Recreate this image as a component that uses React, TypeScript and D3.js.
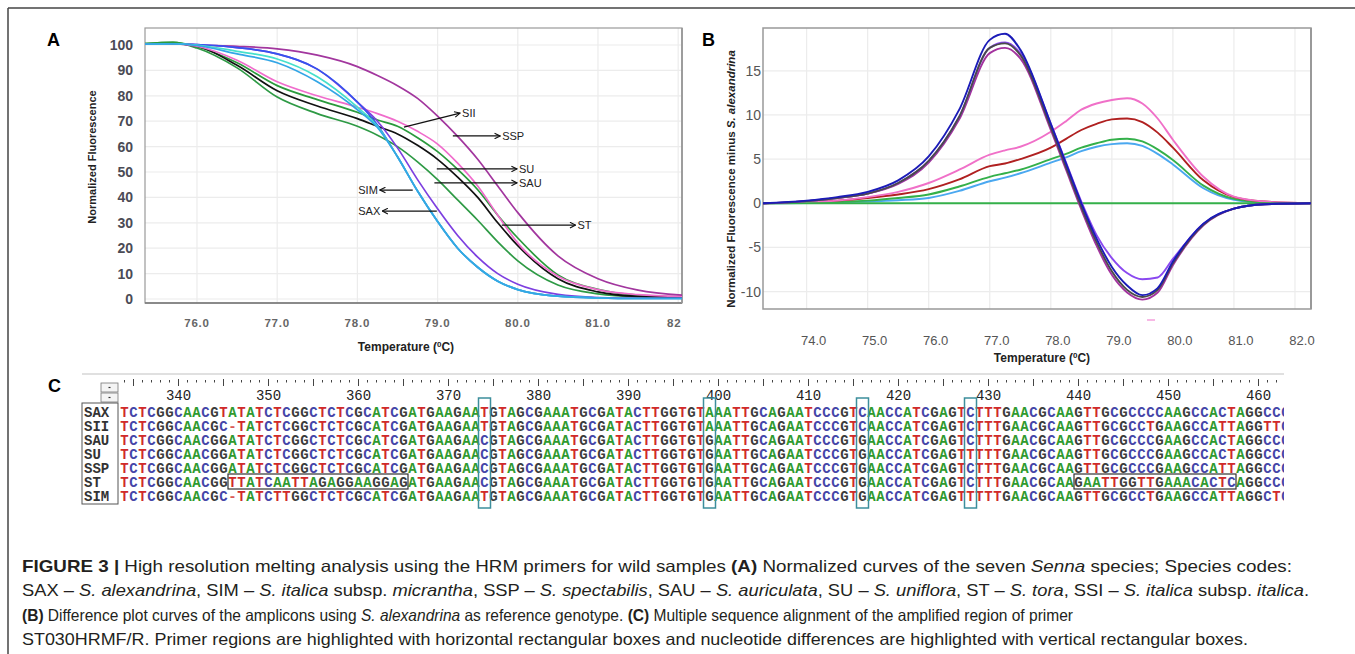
import React from "react";
import * as d3 from "d3";

// ---------------- Panel A : normalized melt curves ----------------
const tempA = [75.35, 75.7, 76, 76.5, 77, 77.5, 78, 78.25, 78.5, 78.75, 79, 79.25, 79.5, 79.75, 80, 80.5, 81, 81.5, 82.06];
const aMagenta = [100.3, 100.5, 100, 99.5, 98.5, 96, 91.5, 88, 84, 79, 72, 64, 55, 44.5, 34, 17, 8, 3.5, 1.5];
const aPink = [100.3, 100.5, 99.5, 94, 85.5, 80, 75.5, 73, 70, 66, 61, 53.5, 44.5, 33, 22, 9, 3.7, 1.7, 1];
const aBlack = [100.3, 100.5, 99.5, 92, 82, 76, 71, 68, 65, 60.5, 55, 48, 40, 30, 21, 8, 2.8, 1, 0.6];
const aGreen1 = [100.5, 101, 99.3, 93, 84, 78.5, 73.5, 70.5, 68, 63.5, 58, 51, 43, 33, 24, 9.5, 3.8, 1.5, 0.8];
const aGreen2 = [100.5, 101, 98.8, 91, 79.5, 73, 68, 64.5, 60, 54, 47, 39, 31, 22.5, 15, 5.5, 2, 0.8, 0.5];
const aViolet = [100.3, 100.5, 100.2, 99, 96.5, 90.5, 77.5, 70, 59.5, 47, 35.5, 25, 16.5, 10, 5.8, 1.8, 0.6, 0.3, 0.3];
const aBlue = [100.3, 100.5, 100.2, 99, 96.5, 90.5, 77.5, 68.5, 56, 42.5, 30.5, 20, 12.5, 7, 3.7, 1.1, 0.4, 0.2, 0.2];
const aTurq = [100.3, 100.5, 100, 97.5, 94.5, 87.5, 75.5, 68, 56, 42.5, 30.5, 20, 12.5, 7, 3.7, 1.1, 0.4, 0.2, 0.2];
const aLightBlue = [100.3, 100.5, 99.8, 96.5, 93, 85.5, 74.5, 67.5, 56, 42.5, 30.5, 20, 12.5, 7, 3.7, 1.1, 0.4, 0.2, 0.2];

const ticksAx = [76, 77, 78, 79, 80, 81, 82];
const labelsAx = ["76.0", "77.0", "78.0", "79.0", "80.0", "81.0", "82"];
const ticksAy = [0, 10, 20, 30, 40, 50, 60, 70, 80, 90, 100];

// arrow annotations: label, tail [T, value], head [T, value]
const arrowLabels = ["SII", "SSP", "SU", "SAU", "SIM", "SAX", "ST"];
const arrowTails = [[78.58, 67.7], [79.19, 64.2], [78.99, 51.2], [78.96, 45.7], [78.69, 42.9], [78.99, 34.6], [79.8, 29.1]];
const arrowHeads = [[79.28, 73.2], [79.78, 64.2], [79.99, 51.2], [79.99, 45.7], [78.28, 42.9], [78.31, 34.6], [80.72, 29.1]];

// ---------------- Panel B : difference curves ----------------
const tempB = [73.28, 74, 74.5, 75, 75.5, 76, 76.5, 77, 77.25, 77.5, 78, 78.25, 78.5, 78.75, 79, 79.25, 79.5, 79.75, 80, 80.5, 81, 81.5, 82.26];
const bNavy = [0, 0.3, 0.7, 1.3, 2.6, 5.3, 10.6, 18.5, 19.2, 17.4, 9, 4.5, 0, -4, -7.2, -9.3, -10.4, -9.6, -6.6, -2.3, -0.6, -0.1, 0];
const bGray = [0, 0.25, 0.6, 1.1, 2.3, 4.8, 9.8, 17.6, 18.1, 16.8, 8.6, 4.1, -0.4, -4.4, -7.7, -9.8, -10.6, -9.8, -6.8, -2.4, -0.6, -0.1, 0];
const bMagenta = [0, 0.25, 0.6, 1.1, 2.2, 4.6, 9.5, 17, 17.6, 16.4, 8.3, 3.8, -0.7, -4.8, -8.1, -10.1, -10.9, -10.1, -7, -2.5, -0.6, -0.1, 0];
const bViolet = [0, 0.25, 0.6, 1.1, 2.3, 4.8, 9.8, 17.6, 18.2, 17, 9, 4.6, 0.2, -3.6, -6.2, -7.9, -8.6, -8.4, -6.3, -2.3, -0.6, -0.1, 0];
const bPink = [0, 0.1, 0.3, 0.7, 1.3, 2.3, 3.8, 5.5, 6.0, 6.4, 8.1, 9.3, 10.6, 11.3, 11.7, 11.9, 11.3, 9.6, 7.2, 3.0, 0.75, 0.2, 0];
const bRed = [0, 0.1, 0.3, 0.6, 1.0, 1.6, 2.7, 4.2, 4.5, 5.0, 6.3, 7.3, 8.3, 9.0, 9.5, 9.6, 9.2, 8.0, 6.3, 2.6, 0.7, 0.2, 0];
const bGreen = [0, 0.05, 0.15, 0.3, 0.6, 1.0, 1.9, 3.0, 3.4, 3.8, 5.0, 5.6, 6.3, 6.8, 7.2, 7.3, 7.0, 6.1, 4.9, 2.0, 0.5, 0.1, 0];
const bLightBlue = [0, 0.03, 0.1, 0.2, 0.35, 0.6, 1.4, 2.5, 2.9, 3.4, 4.6, 5.2, 5.9, 6.4, 6.7, 6.8, 6.5, 5.6, 4.4, 1.7, 0.4, 0.1, 0];
const bReference = tempB.map(() => 0);

const ticksBx = [74, 75, 76, 77, 78, 79, 80, 81, 82];
const ticksBy = [-10, -5, 0, 5, 10, 15];

// ---------------- Panel C : alignment ----------------
const seqNames = ["SAX", "SII", "SAU", "SU", "SSP", "ST", "SIM"];
const seqs = [
  "TCTCGGCAACGTATATCTCGGCTCTCGCATCGATGAAGAATGTAGCGAAATGCGATACTTGGTGTAAATTGCAGAATCCCGTCAACCATCGAGTCTTTGAACGCAAGTTGCGCCCCAAGCCACTAGGCCC",
  "TCTCGGCAACGC-TATCTCGGCTCTCGCATCGATGAAGAATGTAGCGAAATGCGATACTTGGTGTAAATTGCAGAATCCCGTCAACCATCGAGTCTTTGAACGCAAGTTGCGCCTGAAGCCATTAGGTTC",
  "TCTCGGCAACGGATATCTCGGCTCTCGCATCGATGAAGAACGTAGCGAAATGCGATACTTGGTGTGAATTGCAGAATCCCGTGAACCATCGAGTCTTTGAACGCAAGTTGCGCCCGAAGCCACTAGGCCC",
  "TCTCGGCAACGGATATCTCGGCTCTCGCATCGATGAAGAACGTAGCGAAATGCGATACTTGGTGTGAATTGCAGAATCCCGTGAACCATCGAGTTTTTGAACGCAAGTTGCGCCCGAAGCCACTAGGCCC",
  "TCTCGGCAACGGATATCTCGGCTCTCGCATCGATGAAGAACGTAGCGAAATGCGATACTTGGTGTGAATTGCAGAATCCCGTGAACCATCGAGTCTTTGAACGCAAGTTGCGCCCGAAGCCATTAGGCCC",
  "TCTCGGCAACGGTTATCAATTAGAGGAAGGAGATGAAGAACGTAGCGAAATGCGATACTTGGTGTGAATTGCAGAATCCCGTGAACCATCGAGTCTTTGAACGCAAGAATTGGTTGAAACACTCAGGCCC",
  "TCTCGGCAACGC-TATCTTGGCTCTCGCATCGATGAAGAATGTAGCGAAATGCGATACTTGGTGTGAATTGCAGAATCCCGTGAACCATCGAGTTTTTGAACGCAAGTTGCGCCTGAAGCCATTAGGCTC",
];
const seqStart = 334;
const rulerLabels = [340, 350, 360, 370, 380, 390, 400, 410, 420, 430, 440, 450, 460];
const diffPositions = [374, 399, 416, 428];
const primerRanges = [[346, 365], [440, 457]];
const primerRow = 5;

const baseColor: Record<string, string> = { A: "#2f9a2f", C: "#4545a8", G: "#3c3c3c", T: "#d02a2a", "-": "#d85a5a" };

// caption line widths (px)
const captionWidths = [1270, 1287, 1051, 1226];

export default function App() {
  const xA = d3.scaleLinear().domain([76, 82]).range([197, 678.2]);
  const yA = d3.scaleLinear().domain([0, 100]).range([299, 45]);
  const xB = d3.scaleLinear().domain([74, 82]).range([806.6, 1295]);
  const yB = d3.scaleLinear().domain([0, 15]).range([203.3, 70.8]);
  const xC = d3.scaleLinear().domain([seqStart, seqStart + 1]).range([120, 129]);
  const yC = d3.scaleLinear().domain([0, 1]).range([411.5, 425.5]);

  const lineA = d3.line<number>().x((_, i) => xA(tempA[i])).y((v) => yA(v)).curve(d3.curveMonotoneX);
  const lineB = d3.line<number>().x((_, i) => xB(tempB[i])).y((v) => yB(v)).curve(d3.curveMonotoneX);

  const seriesA = [
    { v: aGreen2, c: "#2e9a45" },
    { v: aGreen1, c: "#2a9a3c" },
    { v: aBlack, c: "#111111" },
    { v: aPink, c: "#f06ccc" },
    { v: aMagenta, c: "#a2369e" },
    { v: aViolet, c: "#7d3fe0" },
    { v: aBlue, c: "#3553ee" },
    { v: aTurq, c: "#45e0cc" },
    { v: aLightBlue, c: "#33a6e6" },
  ];
  const seriesB = [
    { v: bLightBlue, c: "#4aa8f0" },
    { v: bGreen, c: "#34b04a" },
    { v: bRed, c: "#b02020" },
    { v: bPink, c: "#f070c8" },
    { v: bReference, c: "#34b04a" },
    { v: bMagenta, c: "#a3329e" },
    { v: bViolet, c: "#8a48f0" },
    { v: bGray, c: "#4a4a4a" },
    { v: bNavy, c: "#1b1bb8" },
  ];

  const A = { l: 145, r: 682, t: 28, b: 303 };
  const B = { l: 763, r: 1311, t: 28, b: 309 };

  const rulerPositions = d3.range(seqStart, seqStart + 130);
  const sans = "Liberation Sans, Arial, Helvetica, sans-serif";
  const narrow = "Liberation Sans Narrow, Arial Narrow, Liberation Sans, Arial, sans-serif";
  const mono = "Courier New, Liberation Mono, monospace";

  return (
    <svg width={1355} height={654} style={{ position: "absolute", left: 0, top: 0, background: "#fff" }} fontFamily={sans}>
      <defs>
        <clipPath id="clipA"><rect x={A.l} y={A.t} width={A.r - A.l} height={A.b - A.t} /></clipPath>
        <clipPath id="clipB"><rect x={B.l} y={B.t} width={B.r - B.l} height={B.b - B.t} /></clipPath>
        <clipPath id="clipC"><rect x={118} y={370} width={1284 - 118} height={150} /></clipPath>
        <marker id="arr" viewBox="0 0 10 10" refX="9" refY="5" markerWidth="7" markerHeight="7" orient="auto-start-reverse" markerUnits="userSpaceOnUse">
          <path d="M1,1 L9,5 L1,9" fill="none" stroke="#111" strokeWidth={1.6} />
        </marker>
      </defs>
      <rect x={0} y={0} width={1355} height={654} fill="#fff" />
      <line x1={8} y1={8} x2={1355} y2={8} stroke="#444" strokeWidth={1.5} />
      <line x1={8} y1={8} x2={8} y2={654} stroke="#444" strokeWidth={1.5} />

      {/* ================= Panel A ================= */}
      <text x={47} y={46} fontSize={18} fontWeight="bold">A</text>
      <g>
        {ticksAx.map((t) => (
          <line key={"ag" + t} x1={xA(t)} x2={xA(t)} y1={A.t} y2={A.b} stroke="#ececec" strokeWidth={1.2} />
        ))}
        {ticksAy.map((t) => (
          <line key={"agy" + t} x1={A.l} x2={A.r} y1={yA(t)} y2={yA(t)} stroke="#ececec" strokeWidth={1.2} />
        ))}
        <rect x={A.l} y={A.t} width={A.r - A.l} height={A.b - A.t} fill="none" stroke="#9a9a9a" strokeWidth={1.2} />
        <line x1={A.l} x2={A.r} y1={A.b} y2={A.b} stroke="#777" strokeWidth={1.5} />
        <line x1={A.r} x2={A.r} y1={A.t} y2={A.b} stroke="#999" strokeWidth={1.8} />
        <g clipPath="url(#clipA)">
          {seriesA.map((s, i) => (
            <path key={"la" + i} d={lineA(s.v) || ""} fill="none" stroke={s.c} strokeWidth={1.7} />
          ))}
        </g>
        {ticksAy.map((t) => (
          <text key={"aty" + t} x={133} y={yA(t) + 5} textAnchor="end" fontSize={14} fontWeight={600} fill="#4b4b55">{t}</text>
        ))}
        {ticksAx.map((t, i) => (
          <text key={"atx" + t} x={xA(t) - (i === ticksAx.length - 1 ? 4 : 0)} y={327} textAnchor="middle" fontSize={11.5} fontWeight="bold" fill="#666" letterSpacing={0.8}>{labelsAx[i]}</text>
        ))}
        <text x={406} y={351} textAnchor="middle" fontSize={12} fontWeight="bold" fill="#222" fontFamily={narrow}>
          Temperature (<tspan fontSize={8} dy={-4}>0</tspan><tspan dy={4}>C)</tspan>
        </text>
        <text transform={`translate(96,157) rotate(-90)`} textAnchor="middle" fontSize={11} fontWeight="bold" fill="#222">Normalized Fluorescence</text>
        {arrowLabels.map((lab, i) => {
          const tx = xA(arrowTails[i][0]);
          const ty = yA(arrowTails[i][1]);
          const hx = xA(arrowHeads[i][0]);
          const hy = yA(arrowHeads[i][1]);
          const left = hx < tx;
          return (
            <g key={"arr" + lab}>
              <line x1={tx} y1={ty} x2={hx} y2={hy} stroke="#111" strokeWidth={1.3} markerEnd="url(#arr)" />
              <text x={left ? hx - 2 : hx + 2} y={hy + 4} textAnchor={left ? "end" : "start"} fontSize={11} fill="#222" fontFamily={narrow}>{lab}</text>
            </g>
          );
        })}
      </g>

      {/* ================= Panel B ================= */}
      <text x={702} y={46} fontSize={18} fontWeight="bold">B</text>
      <g>
        {ticksBx.map((t) => (
          <line key={"bg" + t} x1={xB(t)} x2={xB(t)} y1={B.t} y2={B.b} stroke="#ececec" strokeWidth={1.2} />
        ))}
        {ticksBy.map((t) => (
          <line key={"bgy" + t} x1={B.l} x2={B.r} y1={yB(t)} y2={yB(t)} stroke="#ececec" strokeWidth={1.2} />
        ))}
        <rect x={B.l} y={B.t} width={B.r - B.l} height={B.b - B.t} fill="none" stroke="#999" strokeWidth={1.5} />
        <line x1={B.r} x2={B.r} y1={B.t} y2={B.b} stroke="#999" strokeWidth={2} />
        <g clipPath="url(#clipB)">
          {seriesB.map((s, i) => (
            <path key={"lb" + i} d={lineB(s.v) || ""} fill="none" stroke={s.c} strokeWidth={1.9} />
          ))}
        </g>
        <line x1={1147} x2={1155} y1={320} y2={320} stroke="#f5a0dc" strokeWidth={1.5} />
        {ticksBy.map((t) => (
          <text key={"bty" + t} x={761} y={yB(t) + 5} textAnchor="end" fontSize={14} fill="#555">{t}</text>
        ))}
        {ticksBx.map((t) => (
          <text key={"btx" + t} x={xB(t) + 7} y={345} textAnchor="middle" fontSize={13} fill="#555">{t.toFixed(1)}</text>
        ))}
        <text x={1042} y={362} textAnchor="middle" fontSize={12} fontWeight="bold" fill="#222" fontFamily={narrow}>
          Temperature (<tspan fontSize={8} dy={-4}>0</tspan><tspan dy={4}>C)</tspan>
        </text>
        <text transform={`translate(735,179) rotate(-90)`} textAnchor="middle" fontSize={11.5} fill="#222">
          <tspan fontWeight="bold">Normalized Fluorescence minus  </tspan>
          <tspan fontStyle="italic" fontWeight="bold">S. alexandrina</tspan>
        </text>
      </g>

      {/* ================= Panel C ================= */}
      <text x={48} y={392} fontSize={18} fontWeight="bold">C</text>
      <g>
        <line x1={82} x2={1284} y1={374} y2={374} stroke="#d6d6d6" strokeWidth={1.5} />
        <rect x={101} y={383} width={17} height={9} fill="#f4f4f4" stroke="#777" strokeWidth={0.8} />
        <rect x={101} y={393} width={17} height={9} fill="#f4f4f4" stroke="#777" strokeWidth={0.8} />
        <line x1={108.5} x2={110.5} y1={387.5} y2={387.5} stroke="#333" strokeWidth={1.2} />
        <line x1={108.5} x2={110.5} y1={397.5} y2={397.5} stroke="#333" strokeWidth={1.2} />
        <rect x={82} y={403} width={36} height={101} fill="none" stroke="#555" strokeWidth={1} />
        <g clipPath="url(#clipC)">
          {rulerPositions.map((p) => {
            const cx = xC(p) + 4.5;
            const tall = p % 5 === 0;
            return <line key={"rt" + p} x1={cx} x2={cx} y1={tall ? 379 : 380} y2={tall ? 386 : 382.5} stroke="#444" strokeWidth={1} />;
          })}
          {rulerLabels.map((p) => (
            <text key={"rl" + p} x={xC(p) + 4.5} y={400} textAnchor="middle" fontSize={14} fontFamily={mono} fill="#222">{p}</text>
          ))}
          {seqs.map((s, r) => (
            <g key={"row" + r}>
              {s.split("").map((ch, i) => (
                <text key={i} x={xC(seqStart + i) + 4.5} y={yC(r) + 5} textAnchor="middle" fontSize={14} fontWeight="bold" fontFamily={mono} fill={baseColor[ch] || "#333"}>{ch}</text>
              ))}
            </g>
          ))}
          {primerRanges.map(([a, b], k) => (
            <rect key={"pr" + k} x={xC(a)} y={yC(primerRow) - 7.5} width={xC(b + 1) - xC(a)} height={15} fill="none" stroke="#333" strokeWidth={1.2} />
          ))}
        </g>
        {seqNames.map((n, r) => (
          <text key={"nm" + n} x={84} y={yC(r) + 5} fontSize={14} fontWeight="bold" fontFamily={mono} fill="#333">{n}</text>
        ))}
        {diffPositions.map((p) => (
          <rect key={"dp" + p} x={xC(p) - 1.5} y={398} width={xC(p + 1) - xC(p) + 3} height={110} fill="none" stroke="#3c8e9c" strokeWidth={1.5} />
        ))}
      </g>

      {/* ================= Caption ================= */}
      <g fontSize={16.5} fill="#231f20" fontFamily={sans}>
        <text x={22} y={572} textLength={captionWidths[0]} lengthAdjust="spacingAndGlyphs">
          <tspan fontWeight="bold">FIGURE 3 | </tspan>High resolution melting analysis using the HRM primers for wild samples <tspan fontWeight="bold">(A)</tspan> Normalized curves of the seven <tspan fontStyle="italic">Senna</tspan> species; Species codes:
        </text>
        <text x={22} y={596} textLength={captionWidths[1]} lengthAdjust="spacingAndGlyphs">
          SAX – <tspan fontStyle="italic">S. alexandrina</tspan>, SIM – <tspan fontStyle="italic">S. italica</tspan> subsp. <tspan fontStyle="italic">micrantha</tspan>, SSP – <tspan fontStyle="italic">S. spectabilis</tspan>, SAU – <tspan fontStyle="italic">S. auriculata</tspan>, SU – <tspan fontStyle="italic">S. uniflora</tspan>, ST – <tspan fontStyle="italic">S. tora</tspan>, SSI – <tspan fontStyle="italic">S. italica</tspan> subsp. <tspan fontStyle="italic">italica</tspan>.
        </text>
        <text x={22} y={621} textLength={captionWidths[2]} lengthAdjust="spacingAndGlyphs">
          <tspan fontWeight="bold">(B)</tspan> Difference plot curves of the amplicons using <tspan fontStyle="italic">S. alexandrina</tspan> as reference genotype. <tspan fontWeight="bold">(C)</tspan> Multiple sequence alignment of the amplified region of primer
        </text>
        <text x={22} y={645} textLength={captionWidths[3]} lengthAdjust="spacingAndGlyphs">
          ST030HRMF/R. Primer regions are highlighted with horizontal rectangular boxes and nucleotide differences are highlighted with vertical rectangular boxes.
        </text>
      </g>
    </svg>
  );
}
